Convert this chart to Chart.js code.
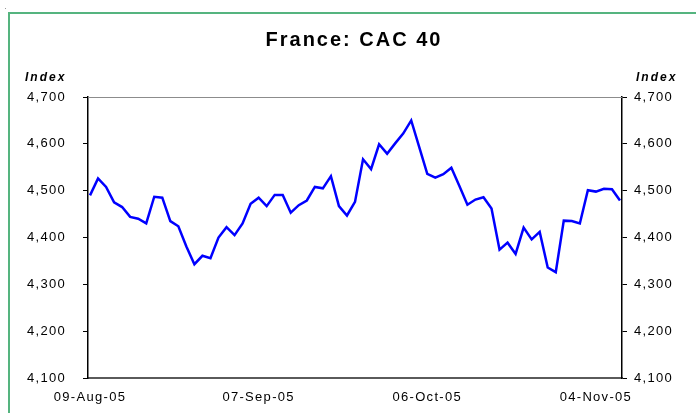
<!DOCTYPE html>
<html>
<head>
<meta charset="utf-8">
<script src="https://cdn.jsdelivr.net/npm/chart.js@4.4.1/dist/chart.umd.min.js"></script>
<style>
  html, body { margin: 0; padding: 0; background: #fff; }
</style>
</head>
<body>
<canvas id="cacChart" width="696" height="413"></canvas>
<script>
const chartTitle = "France: CAC 40";
const axisTitle = "Index";

// trading days, 09-Aug-05 .. 09-Nov-05
const tradingDays = [
  "09-Aug-05", "10-Aug-05", "11-Aug-05", "12-Aug-05", "15-Aug-05", "16-Aug-05", "17-Aug-05", "18-Aug-05",
  "19-Aug-05", "22-Aug-05", "23-Aug-05", "24-Aug-05", "25-Aug-05", "26-Aug-05", "29-Aug-05", "30-Aug-05",
  "31-Aug-05", "01-Sep-05", "02-Sep-05", "05-Sep-05", "06-Sep-05", "07-Sep-05", "08-Sep-05", "09-Sep-05",
  "12-Sep-05", "13-Sep-05", "14-Sep-05", "15-Sep-05", "16-Sep-05", "19-Sep-05", "20-Sep-05", "21-Sep-05",
  "22-Sep-05", "23-Sep-05", "26-Sep-05", "27-Sep-05", "28-Sep-05", "29-Sep-05", "30-Sep-05", "03-Oct-05",
  "04-Oct-05", "05-Oct-05", "06-Oct-05", "07-Oct-05", "10-Oct-05", "11-Oct-05", "12-Oct-05", "13-Oct-05",
  "14-Oct-05", "17-Oct-05", "18-Oct-05", "19-Oct-05", "20-Oct-05", "21-Oct-05", "24-Oct-05", "25-Oct-05",
  "26-Oct-05", "27-Oct-05", "28-Oct-05", "31-Oct-05", "01-Nov-05", "02-Nov-05", "03-Nov-05", "04-Nov-05",
  "07-Nov-05", "08-Nov-05", "09-Nov-05"
];

const cacClose = [
  4490, 4526, 4508, 4475, 4465, 4444, 4440, 4430,
  4487, 4485, 4435, 4424, 4381, 4343, 4361, 4356,
  4400, 4422, 4405, 4430, 4472, 4485, 4467, 4491,
  4491, 4453, 4469, 4479, 4508, 4505, 4531, 4467,
  4447, 4476, 4567, 4546, 4599, 4579, 4601, 4622,
  4650, 4593, 4536, 4528, 4535, 4549, 4510, 4470,
  4481, 4486, 4462, 4374, 4389, 4365, 4421, 4396,
  4412, 4336, 4326, 4436, 4435, 4430, 4501, 4498,
  4504, 4503, 4479
];

// which days get a label on the x axis
const dateTickIdx = [0, 21, 42, 63];

const yMin = 4100;
const yMax = 4700;
const yStep = 100;

const FONT = '"Liberation Sans", Arial, Helvetica, sans-serif';

const fmt = v => v.toLocaleString('en-US');

// extra letter spacing, title, "Index" captions, frame
const decorPlugin = {
  id: 'decor',
  beforeLayout(chart) {
    chart.ctx.letterSpacing = '1.3px';
  },
  beforeDraw(chart) {
    const ctx = chart.ctx;
    ctx.letterSpacing = '1.3px';
  },
  beforeDatasetsDraw(chart) {
    const { ctx, chartArea } = chart;
    ctx.save();
    ctx.strokeStyle = '#8c8c8c';
    ctx.lineWidth = 1;
    ctx.beginPath();
    ctx.moveTo(chartArea.left, chartArea.top + 0.5);
    ctx.lineTo(chartArea.right, chartArea.top + 0.5);
    ctx.stroke();
    ctx.restore();
  },
  afterDraw(chart) {
    const ctx = chart.ctx;
    ctx.save();

    // green frame around the chart object
    ctx.strokeStyle = '#55b47f';
    ctx.lineWidth = 2;
    ctx.strokeRect(9, 13, 800, 500);
    ctx.fillStyle = '#999';
    ctx.fillRect(5, 8, 1, 1);

    ctx.fillStyle = '#000';
    ctx.textBaseline = 'alphabetic';

    ctx.letterSpacing = '2px';
    ctx.font = 'bold 20px ' + FONT;
    ctx.textAlign = 'center';
    ctx.fillText(chartTitle, 354, 46);

    ctx.font = 'italic bold 12px ' + FONT;
    ctx.textAlign = 'left';
    ctx.fillText(axisTitle, 25, 81);
    ctx.fillText(axisTitle, 636, 81);
    ctx.restore();
  }
};

const yAxisBase = {
  min: yMin,
  max: yMax,
  afterFit: axis => { axis.width = 64; },
  grid: { drawOnChartArea: false, tickLength: 5, color: '#000', lineWidth: 1 },
  border: { display: true, color: '#000', width: 1.5 },
  ticks: {
    stepSize: yStep,
    color: '#000',
    font: { family: FONT, size: 13 },
    callback: v => fmt(v)
  }
};

const ctx = document.getElementById('cacChart').getContext('2d');
new Chart(ctx, {
  type: 'line',
  data: {
    datasets: [{
      label: chartTitle,
      data: cacClose.map((v, i) => ({ x: i, y: v })),
      borderColor: '#0000ff',
      borderWidth: 2.5,
      pointRadius: 0,
      tension: 0,
      fill: false,
      yAxisID: 'y'
    }]
  },
  options: {
    responsive: false,
    animation: false,
    devicePixelRatio: 1,
    layout: { padding: { left: 24, right: 10, top: 97, bottom: 0 } },
    plugins: {
      legend: { display: false },
      tooltip: { enabled: false },
      title: { display: false }
    },
    scales: {
      x: {
        type: 'linear',
        min: -0.25,
        max: tradingDays.length - 0.75,
        afterBuildTicks: axis => { axis.ticks = dateTickIdx.map(i => ({ value: i })); },
        afterFit: axis => { axis.height = 35; },
        grid: { display: false, drawTicks: false },
        border: { display: true, color: '#5a5a5a', width: 2 },
        ticks: {
          autoSkip: false,
          maxRotation: 0,
          padding: 12,
          color: '#000',
          font: { family: FONT, size: 13 },
          callback: v => tradingDays[v]
        }
      },
      y: Object.assign({}, yAxisBase, {
        position: 'left',
        ticks: Object.assign({}, yAxisBase.ticks, { padding: 17 })
      }),
      y2: Object.assign({}, yAxisBase, {
        position: 'right',
        ticks: Object.assign({}, yAxisBase.ticks, { padding: 7 })
      })
    }
  },
  plugins: [decorPlugin]
});
</script>
</body>
</html>
